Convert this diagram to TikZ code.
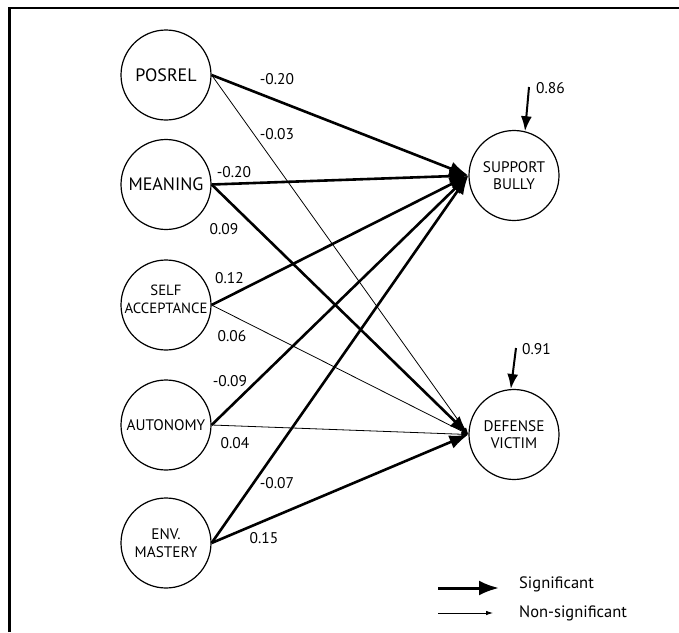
\documentclass[tikz,border=0pt]{standalone}
\usepackage{fontspec}
\setmainfont{PT Sans}
\usetikzlibrary{arrows.meta}
\begin{document}
\begin{tikzpicture}[x=1pt,y=-1pt,
  circ/.style={circle,draw,line width=1.2pt,minimum size=90pt,inner sep=0pt,align=center},
  big/.style={font=\fontsize{18}{21}\selectfont},
  small/.style={font=\fontsize{15.3}{17.5}\selectfont},
  txt/.style={align=center,inner sep=0pt},
  num/.style={font=\fontsize{15.5}{18}\selectfont,inner sep=0pt},
  leg/.style={font=\fontsize{16.5}{19}\selectfont,inner sep=0pt,anchor=west},
  sig/.style={line width=2.6pt,-{Latex[length=19pt,width=14pt]}},
  nsig/.style={line width=0.8pt,-{Latex[length=7pt,width=4.5pt]}},
  res/.style={line width=2pt,-{Latex[length=15pt,width=11pt]}}]
\useasboundingbox (0,0) rectangle (679,632);
% frame
\coordinate (fa) at (9.5,632);
\coordinate (fb) at (9.5,8);
\coordinate (fc) at (679,8);
\draw[line width=2.5pt] (fa) -- (fb) -- (fc);

% predictor nodes
\node[circ,big] (posrel) at (166,75) {POSREL};
\node[circ,big] (meaning) at (166,184.5) {MEANING};
\node[circ] (self) at (166,305) {};
\node[txt,font=\fontsize{14.8}{18}\selectfont] (selftxt) at (166,299) {SELF\\ACCEPTANCE};
\node[circ,small] (auton) at (166,425) {AUTONOMY};
\node[circ,small] (env) at (166,543) {ENV.\\MASTERY};

% outcome nodes
\node[circ,small] (sb) at (514,175.5) {SUPPORT\\BULLY};
\node[circ,small] (dv) at (514,434.5) {DEFENSE\\VICTIM};

% paths
\draw[nsig] (posrel.east) -- (dv.west);
\draw[nsig] (self.east) -- (dv.west);
\draw[nsig] (auton.east) -- (dv.west);
\draw[sig] (posrel.east) -- (sb.west);
\draw[sig] (meaning.east) -- (sb.west);
\draw[sig] (meaning.east) -- (dv.west);
\draw[sig] (self.east) -- (sb.west);
\draw[sig] (auton.east) -- (sb.west);
\draw[sig] (env.east) -- (sb.west);
\draw[sig] (env.east) -- (dv.west);

% coefficients
\node[num] (c1) at (277,79) {-0.20};
\node[num] (c2) at (277,134) {-0.03};
\node[num] (c3) at (234,172.5) {-0.20};
\node[num] (c4) at (224,229) {0.09};
\node[num] (c5) at (229.5,278) {0.12};
\node[num] (c6) at (232,336.5) {0.06};
\node[num] (c7) at (230,381) {-0.09};
\node[num] (c8) at (235,443) {0.04};
\node[num] (c9) at (277,483) {-0.07};
\node[num] (c10) at (264,538) {0.15};

% residuals
\coordinate (r1) at (529,87);
\coordinate (r2) at (516,348);
\draw[res] (r1) -- (sb.76);
\draw[res] (r2) -- (dv.94);
\node[num,anchor=west] (e1) at (536,88) {0.86};
\node[num,anchor=west] (e2) at (522,349) {0.91};

% legend
\coordinate (l1a) at (438,588);
\coordinate (l1b) at (499,588);
\coordinate (l2a) at (438,613);
\coordinate (l2b) at (493,613);
\draw[line width=3pt,-{Latex[length=20pt,width=15pt]}] (l1a) -- (l1b);
\draw[nsig] (l2a) -- (l2b);
\node[leg] (lt1) at (519,584) {Significant};
\node[leg] (lt2) at (519,613) {Non-significant};
\end{tikzpicture}
\end{document}
